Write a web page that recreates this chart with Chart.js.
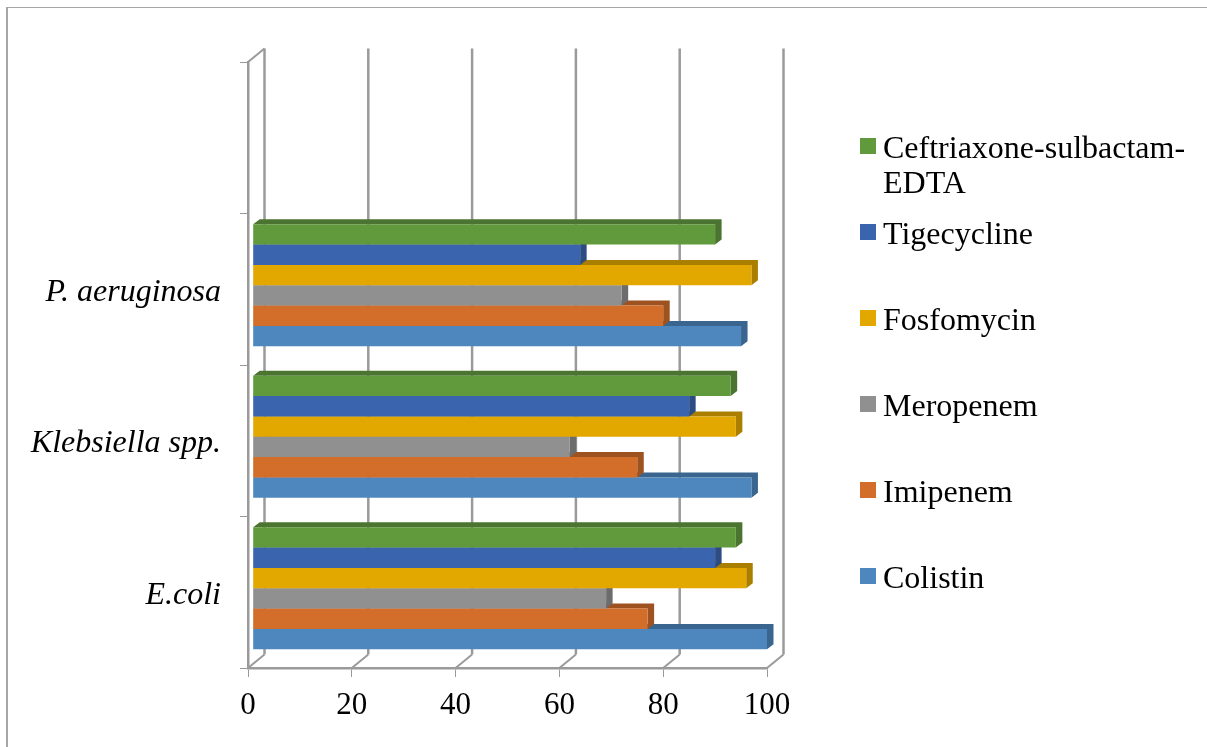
<!DOCTYPE html>
<html lang="en">
<head>
  <meta charset="UTF-8">
  <title>Resistance chart</title>
  <script src="https://cdn.jsdelivr.net/npm/chart.js"></script>
  <style>
    html, body { margin: 0; padding: 0; background: #fff; overflow: hidden; }
    #wrap { position: relative; width: 1207px; height: 747px; font-family: "Liberation Serif", serif; color: #000; }
    #frame { position: absolute; left: 6px; top: 7px; right: 0; bottom: 0; border-left: 2px solid #a6a6a6; border-top: 1px solid #a6a6a6; }
    canvas { position: absolute; left: 0; top: 0; }
    .item { position: absolute; left: 883px; font-size: 32px; line-height: 35px; white-space: nowrap; }
    .swatch { position: absolute; left: 860px; width: 16px; height: 16px; }
  </style>
</head>
<body>
  <div id="wrap">
    <div id="frame"></div>
    <canvas id="chart" width="1207" height="747"></canvas>
    <div id="legend"></div>
  </div>

  <script>
    const categories = ['', 'P. aeruginosa', 'Klebsiella spp.', 'E.coli'];
    const xTicks = [0, 20, 40, 60, 80, 100];

    const seriesNames = ['Ceftriaxone-sulbactam-EDTA', 'Tigecycline', 'Fosfomycin', 'Meropenem', 'Imipenem', 'Colistin'];
    const ceftriaxone = [null, 90, 93, 94];
    const tigecycline = [null, 64, 85, 90];
    const fosfomycin = [null, 97, 94, 96];
    const meropenem = [null, 72, 62, 69];
    const imipenem = [null, 80, 75, 77];
    const colistin = [null, 95, 97, 100];
    const seriesValues = [ceftriaxone, tigecycline, fosfomycin, meropenem, imipenem, colistin];

    const frontColors = ['#619a3c', '#3a65ae', '#e2a800', '#909090', '#d26d2a', '#4e87bd'];
    const shadeColors = ['#4a7430', '#2c4c83', '#aa7f00', '#6c6c6c', '#9e5220', '#3a658e'];

    const wallColor = '#9a9a9a';
    const wallDx = 16.5, wallDy = 13.5;   // back wall offset
    const barDx = 6.5, barDy = 5;         // bar depth
    const barLift = 4;                    // bars sit a bit behind the axis plane

    // fake 3D: back wall, floor and the top/side faces of each bar
    const fake3d = {
      id: 'fake3d',
      beforeDatasetsDraw(chart) {
        const ctx = chart.ctx, x = chart.scales.x, y = chart.scales.y;
        ctx.save();
        ctx.strokeStyle = wallColor;
        xTicks.forEach((t, i) => {
          const px = x.getPixelForTick(i);
          ctx.lineWidth = 2.5;
          ctx.beginPath();
          ctx.moveTo(px + wallDx, y.top - wallDy);
          ctx.lineTo(px + wallDx, y.bottom - wallDy);
          ctx.stroke();
          ctx.lineWidth = 2;
          ctx.beginPath();
          ctx.moveTo(px + wallDx, y.bottom - wallDy);
          ctx.lineTo(px, y.bottom);
          ctx.stroke();
        });
        ctx.beginPath();
        ctx.moveTo(x.left, y.top);
        ctx.lineTo(x.left + wallDx, y.top - wallDy);
        ctx.stroke();
        ctx.restore();
      },
      beforeDatasetDraw(chart, args) {
        const ctx = chart.ctx;
        ctx.save();
        ctx.translate(0, -barLift);
        ctx.fillStyle = shadeColors[args.index];
        args.meta.data.forEach((bar, i) => {
          if (seriesValues[args.index][i] === null) return;
          const top = bar.y - bar.height / 2, bottom = bar.y + bar.height / 2;
          ctx.beginPath();
          ctx.moveTo(bar.base, top);
          ctx.lineTo(bar.base + barDx, top - barDy);
          ctx.lineTo(bar.x + barDx, top - barDy);
          ctx.lineTo(bar.x + barDx, bottom - barDy);
          ctx.lineTo(bar.x, bottom);
          ctx.lineTo(bar.x, top);
          ctx.closePath();
          ctx.fill();
        });
      },
      afterDatasetDraw(chart) {
        chart.ctx.restore();
      }
    };

    new Chart(document.getElementById('chart'), {
      type: 'bar',
      plugins: [fake3d],
      data: {
        labels: categories,
        datasets: seriesNames.map((name, i) => ({
          label: name,
          data: seriesValues[i],
          backgroundColor: frontColors[i],
          base: 1,
          clip: false,
          categoryPercentage: 0.805,
          barPercentage: 1
        }))
      },
      options: {
        indexAxis: 'y',
        responsive: false,
        animation: false,
        layout: { padding: { top: 62, right: 440, bottom: 0, left: 0 } },
        plugins: { legend: { display: false }, tooltip: { enabled: false } },
        scales: {
          x: {
            min: 0,
            max: 100,
            afterBuildTicks(scale) { scale.ticks = xTicks.map(v => ({ value: v })); },
            afterFit(scale) { scale.height = 79; },
            grid: { drawOnChartArea: false, tickLength: 9, color: wallColor, lineWidth: 1 },
            border: { color: wallColor, width: 2.5 },
            ticks: { color: '#000', padding: 10, maxRotation: 0, font: { family: 'Liberation Serif', size: 31 } }
          },
          y: {
            afterFit(scale) { scale.width = 248; },
            grid: { drawOnChartArea: false, tickLength: 8, color: wallColor, lineWidth: 1 },
            border: { color: wallColor, width: 2.5 },
            ticks: { color: '#000', padding: 19, labelOffset: 3, font: { family: 'Liberation Serif', size: 32, style: 'italic' } }
          }
        }
      }
    });

    // legend on the right, one row every 86px
    const legend = document.getElementById('legend');
    seriesNames.forEach((name, i) => {
      const rowTop = 130 + i * 86;
      const swatch = document.createElement('div');
      swatch.className = 'swatch';
      swatch.style.top = (rowTop + 8) + 'px';
      swatch.style.background = frontColors[i];
      const item = document.createElement('div');
      item.className = 'item';
      item.style.top = rowTop + 'px';
      item.innerHTML = name.replace('sulbactam-', 'sulbactam-<br>');
      legend.append(swatch, item);
    });
  </script>
</body>
</html>
